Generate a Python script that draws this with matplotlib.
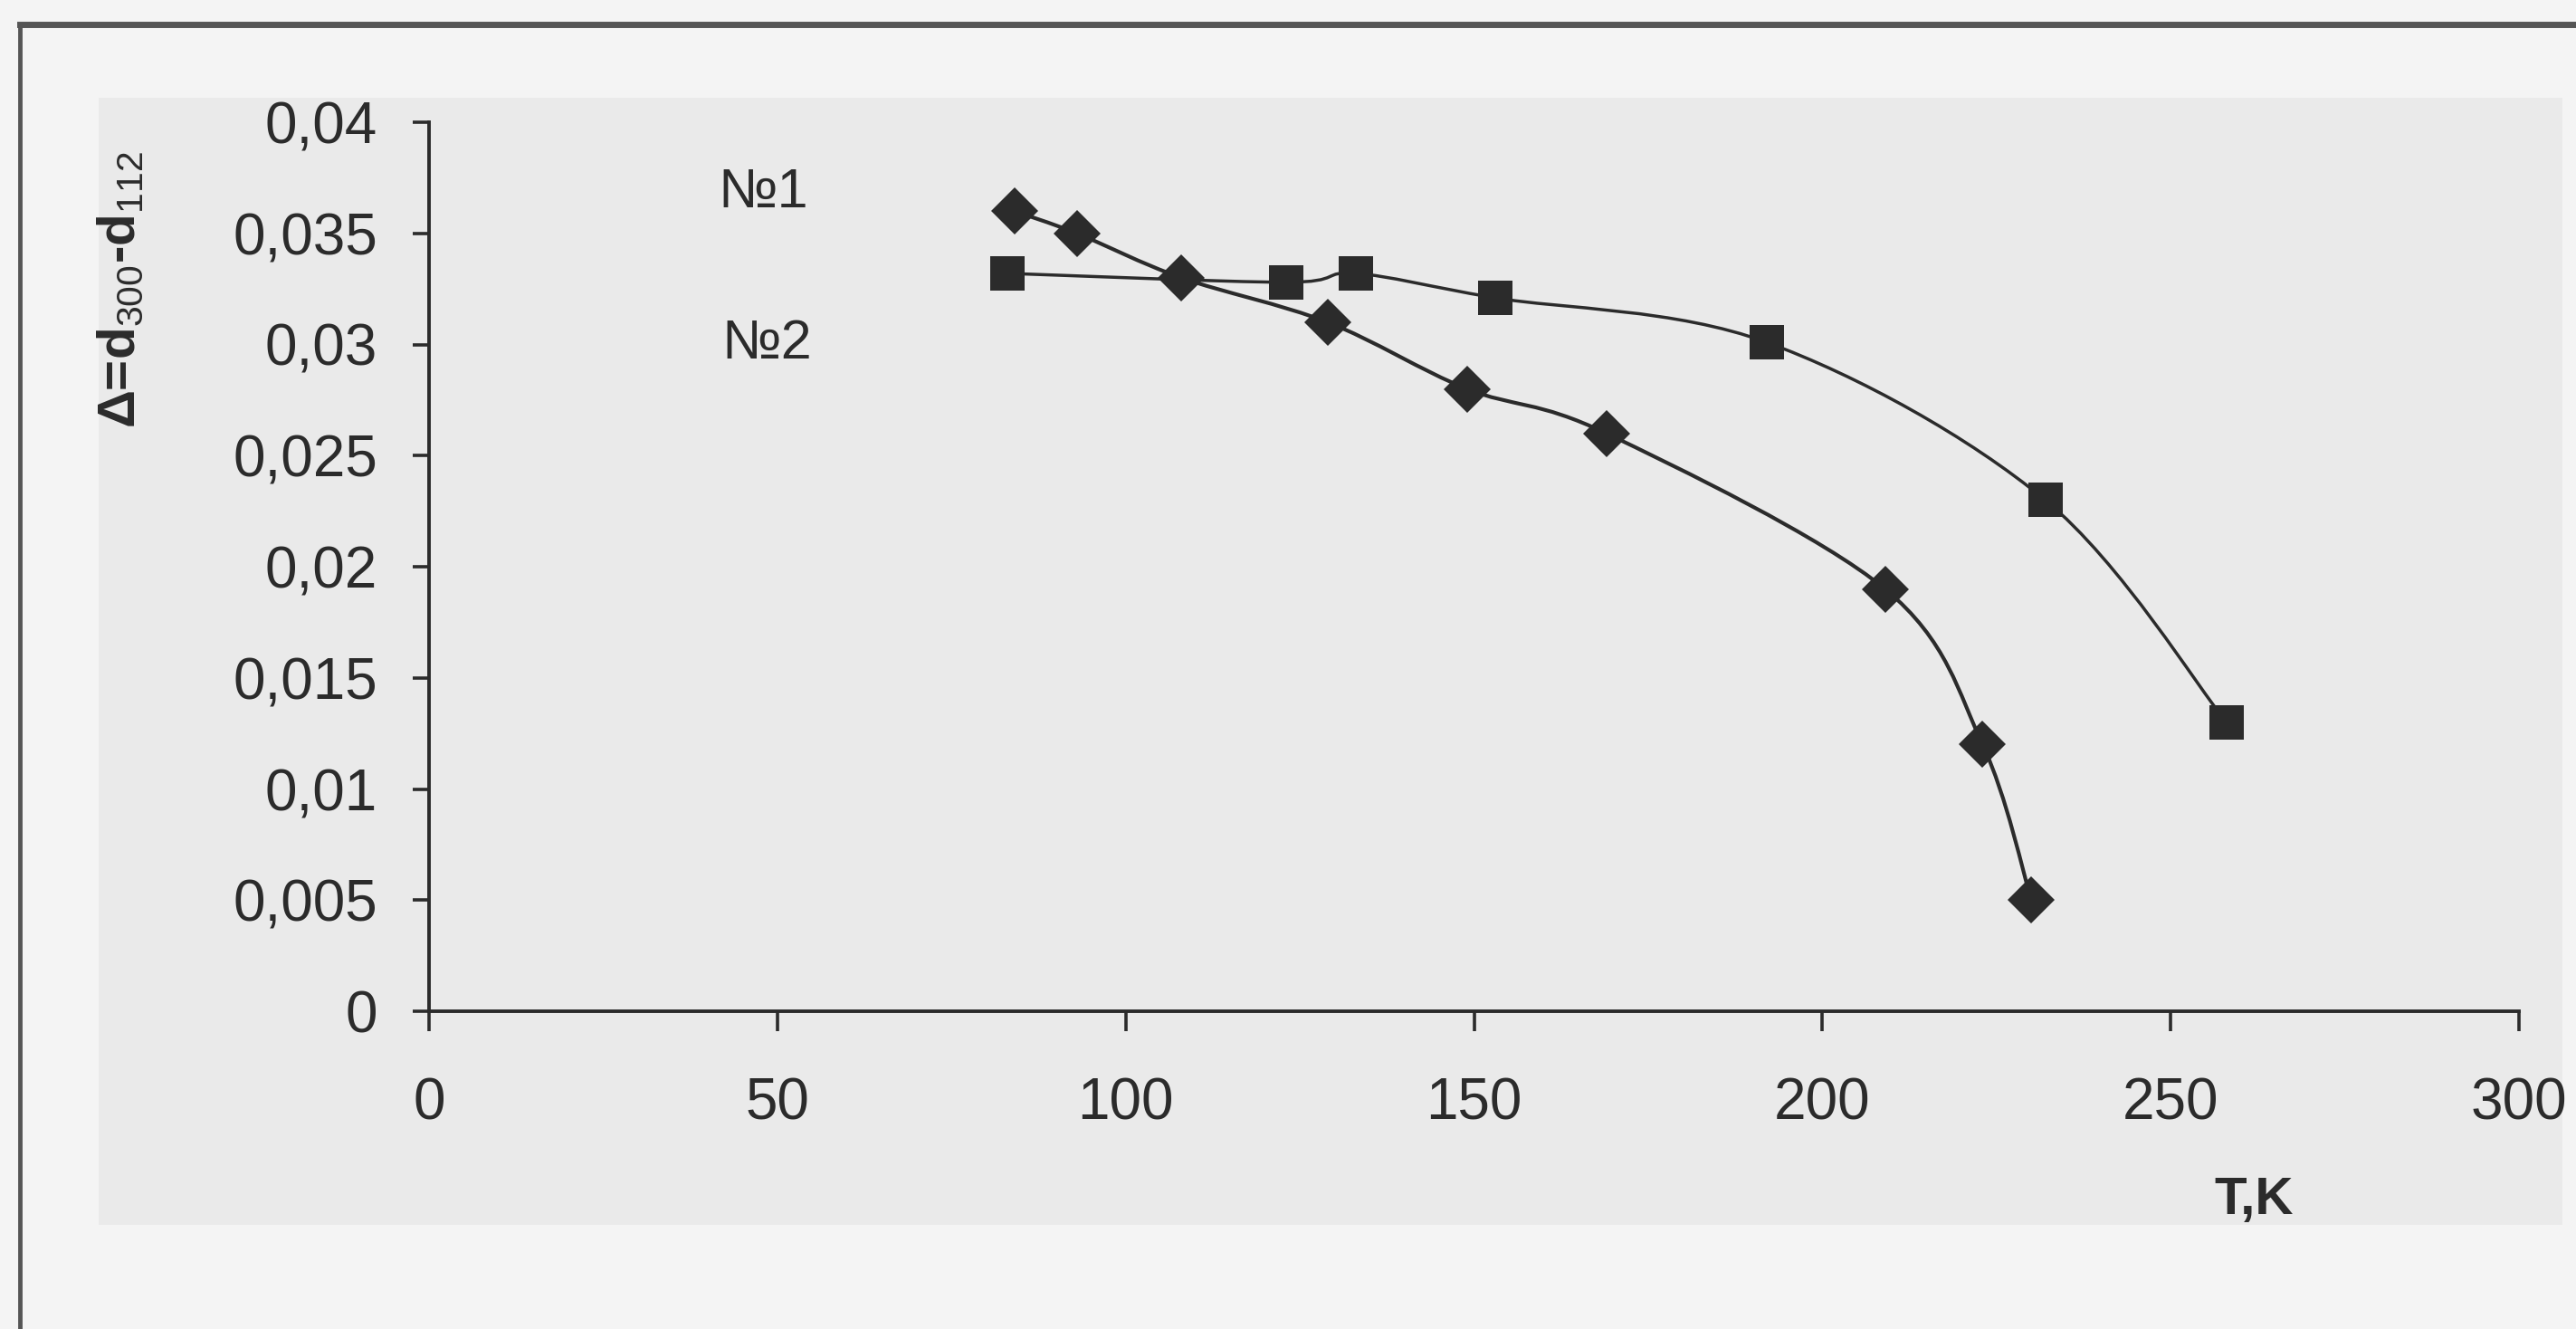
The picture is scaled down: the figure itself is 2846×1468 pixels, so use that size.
import numpy as np
import matplotlib
matplotlib.use("Agg")
import matplotlib.pyplot as plt
from matplotlib import lines
from matplotlib import patches
from matplotlib.path import Path

plt.rcParams['font.family'] = ['Liberation Sans', 'DejaVu Sans']
plt.rcParams['mathtext.fontset'] = 'custom'
plt.rcParams['mathtext.rm'] = 'Liberation Sans'
plt.rcParams['mathtext.bf'] = 'Liberation Sans:bold'

# data
t1 = [84, 93, 108, 129, 149, 169, 209, 223, 230]
d1 = [0.036, 0.035, 0.033, 0.031, 0.028, 0.026, 0.019, 0.012, 0.005]
t2 = [83, 123, 133, 153, 192, 232, 258]
d2 = [0.0332, 0.0328, 0.0332, 0.0321, 0.0301, 0.0230, 0.0130]

x_ticks = [0, 50, 100, 150, 200, 250, 300]
y_ticks = [0, 0.005, 0.01, 0.015, 0.02, 0.025, 0.03, 0.035, 0.04]
y_tick_labels = ['0', '0,005', '0,01', '0,015', '0,02', '0,025', '0,03', '0,035', '0,04']

ink = '#2b2b2b'
W, H = 2846, 1468


def smooth_path(xs, ys):
    # Excel-like smoothed line: cubic bezier through the points
    p = np.column_stack([xs, ys]).astype(float)
    n = len(p)
    verts = [p[0]]
    codes = [Path.MOVETO]
    for i in range(n - 1):
        p0 = p[i - 1] if i > 0 else p[i]
        p3 = p[i + 2] if i + 2 < n else p[i + 1]
        c1 = p[i] + (p[i + 1] - p0) / 6.0
        c2 = p[i + 1] - (p3 - p[i]) / 6.0
        verts += [c1, c2, p[i + 1]]
        codes += [Path.CURVE4] * 3
    return Path(verts, codes)


fig = plt.figure(figsize=(W / 100, H / 100), dpi=100)
fig.patch.set_facecolor('#f4f4f4')

# scanned page panel and frame
fig.add_artist(patches.Rectangle((109 / W, 1 - 1353 / H), (2831 - 109) / W, (1353 - 108) / H,
                                 transform=fig.transFigure, facecolor='#eaeaea',
                                 edgecolor='none', zorder=0))
fig.add_artist(lines.Line2D([22 / W, 1], [1 - 27 / H] * 2, color='#555555', lw=5))
fig.add_artist(lines.Line2D([22 / W] * 2, [0, 1 - 27 / H], color='#555555', lw=3.5))

ax = fig.add_axes([474 / W, 1 - 1117 / H, (2783 - 474) / W, (1117 - 135) / H])
ax.set_facecolor('none')
ax.set_xlim(0, 300)
ax.set_ylim(0, 0.04)

for s in ['top', 'right']:
    ax.spines[s].set_visible(False)
for s in ['left', 'bottom']:
    ax.spines[s].set_linewidth(2.8)
    ax.spines[s].set_color(ink)

ax.add_patch(patches.PathPatch(smooth_path(t1, d1), fill=False, edgecolor=ink, lw=3, clip_on=False))
ax.add_patch(patches.PathPatch(smooth_path(t2, d2), fill=False, edgecolor=ink, lw=2.5, clip_on=False))
ax.plot(t1, d1, linestyle='none', marker='D', ms=26, color=ink, mew=0, clip_on=False)
ax.plot(t2, d2, linestyle='none', marker='s', ms=28, color=ink, mew=0, clip_on=False)

ax.set_xticks(x_ticks)
ax.set_yticks(y_ticks)
ax.set_yticklabels(y_tick_labels)
ax.tick_params(axis='y', direction='out', length=13, width=2.6, color=ink, pad=28,
               labelsize=46, labelcolor=ink)
ax.tick_params(axis='x', direction='out', length=16, width=2.6, color=ink, pad=36,
               labelsize=46, labelcolor=ink)

ax.text(48, 0.0368, '№1', ha='center', va='center', fontsize=44, color=ink)
ax.text(48.5, 0.0300, '№2', ha='center', va='center', fontsize=44, color=ink)
ax.text(262, -0.0085, 'T,K', ha='center', va='center', fontsize=42,
        fontweight='bold', color=ink)

fig.text(133 / W, 1 - 320 / H, r'Δ=d$_{300}$-d$_{112}$', fontweight='bold',
         rotation=90, ha='center', va='center', fontsize=42, color=ink)

fig.savefig('out.png', dpi=100, facecolor=fig.get_facecolor())
